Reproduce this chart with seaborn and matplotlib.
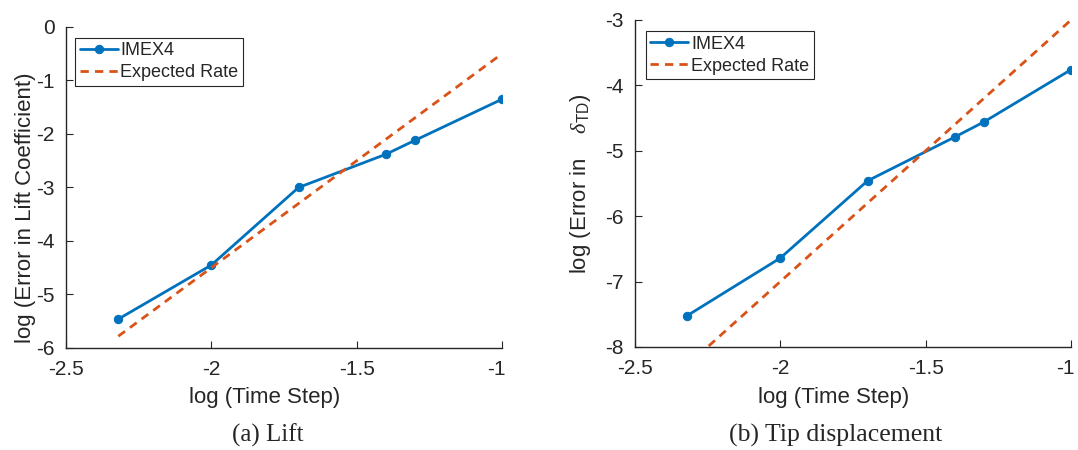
import pandas as pd
import matplotlib
matplotlib.use("Agg")
import matplotlib.pyplot as plt
import matplotlib.transforms as mtrans
import seaborn as sns

# log10 of time step
time_step = [-2.32, -2.0, -1.7, -1.4, -1.3, -1.0]

# lift coefficient error
lift_err = [-5.46, -4.45, -3.0, -2.38, -2.12, -1.35]
lift_rate_x = [-2.32, -1.0]
lift_rate_y = [-5.78, -0.5]

# tip displacement error
tip_err = [-7.52, -6.64, -5.46, -4.79, -4.56, -3.76]
tip_rate_x = [-2.32, -1.0]
tip_rate_y = [-8.28, -3.0]

blue = '#0072BD'
orange = '#D95319'
dark = '#262626'

sns.set_style('ticks')
plt.rcParams['font.family'] = ['Liberation Sans', 'DejaVu Sans']
plt.rcParams['mathtext.fontset'] = 'custom'
plt.rcParams['mathtext.rm'] = 'Liberation Sans'
plt.rcParams['mathtext.sf'] = 'Liberation Sans'
plt.rcParams['mathtext.it'] = 'Liberation Serif:italic'
plt.rcParams['axes.edgecolor'] = dark
plt.rcParams['xtick.direction'] = 'in'
plt.rcParams['ytick.direction'] = 'in'

fig = plt.figure(figsize=(10.78, 4.5), dpi=100)
ax1 = fig.add_axes([0.0612, 0.2267, 0.4045, 0.7133])
ax2 = fig.add_axes([0.589, 0.2289, 0.4045, 0.7267])


def draw(ax, err, rx, ry, ylim, yticks, ylabel, ylab_pos, leg_pos):
    df = pd.DataFrame({'x': time_step, 'y': err})
    sns.lineplot(data=df, x='x', y='y', ax=ax, color=blue, marker='o',
                 markersize=6, markeredgecolor=blue, linewidth=2,
                 sort=False, label='IMEX4')
    dr = pd.DataFrame({'x': rx, 'y': ry})
    sns.lineplot(data=dr, x='x', y='y', ax=ax, color=orange, linewidth=2,
                 linestyle=(0, (3, 2.2)), sort=False, label='Expected Rate')
    ax.set_xlim(-2.5, -1)
    ax.set_ylim(*ylim)
    ax.set_xticks([-2.5, -2, -1.5, -1])
    ax.set_xticklabels(['-2.5', '-2', '-1.5', '-1'])
    ax.set_yticks(yticks)
    ax.set_yticklabels([str(t) for t in yticks])
    ax.tick_params(labelsize=15, length=5, width=0.8, colors=dark)
    ax.tick_params(axis='x', pad=8.6)
    ax.tick_params(axis='y', pad=8)
    ax.set_xlabel('log (Time Step)', fontsize=16, color=dark)
    ax.set_ylabel(ylabel, fontsize=16, color=dark)
    ax.xaxis.set_label_coords(0.455, -0.121)
    ax.yaxis.set_label_coords(*ylab_pos)
    for s in ['top', 'right']:
        ax.spines[s].set_visible(False)
    for s in ['left', 'bottom']:
        ax.spines[s].set_linewidth(1)
    leg = ax.legend(loc='upper left', bbox_to_anchor=leg_pos,
                    fontsize=13, fancybox=False, framealpha=1,
                    edgecolor=dark, borderpad=0.25, labelspacing=0.28,
                    handlelength=2.1, handletextpad=0.15, borderaxespad=0)
    leg.get_frame().set_linewidth(0.8)
    # nudge the last x tick label left a little, as in the original
    last = ax.get_xticklabels()[-1]
    last.set_transform(last.get_transform() +
                       mtrans.ScaledTranslation(-4 / 72, 0, fig.dpi_scale_trans))


draw(ax1, lift_err, lift_rate_x, lift_rate_y, (-6, 0), list(range(-6, 1)),
     'log (Error in Lift Coefficient)', (-0.069, 0.436), (0.021, 0.966))
draw(ax2, tip_err, tip_rate_x, tip_rate_y, (-8, -3), list(range(-8, -2)),
     r'log (Error in    $\delta_{\mathsf{TD}}$)', (-0.097, 0.5), (0.025, 0.966))

fig.text(0.2486, 0.033, '(a) Lift', ha='center', va='center',
         fontsize=18, family='Liberation Serif')
fig.text(0.7755, 0.033, '(b) Tip displacement', ha='center', va='center',
         fontsize=18.5, family='Liberation Serif')

fig.savefig('out.png', dpi=100)
